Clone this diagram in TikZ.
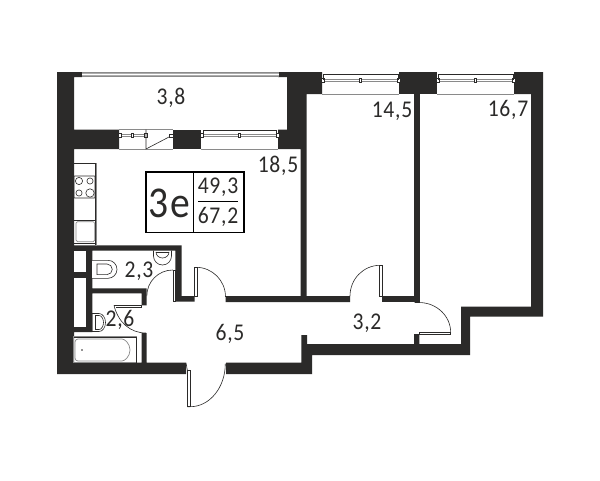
\documentclass[tikz,border=0pt]{standalone}
\usepackage{fontspec}
\setmainfont{Carlito}
\newfontface\areafont[FakeStretch=0.9,LetterSpace=3]{Carlito}
\definecolor{wallc}{HTML}{2B2A29}
\definecolor{grayc}{HTML}{8A8A8A}
\tikzset{
  wall/.style={fill=wallc,draw=none},
  thin line/.style={draw=wallc,line width=0.6pt},
  leaf/.style={draw=wallc,fill=white,line width=0.5pt},
  gline/.style={draw=grayc,line width=0.7pt},
  area/.style={font=\areafont\fontsize{24}{24}\selectfont,text=wallc,inner sep=0pt},
}
\newcommand{\winbay}[3]{%
  \draw[gline] (#1,#3) -- (#2,#3);
  \draw[gline] (#1,#3+1.6) -- (#2,#3+1.6);
  \draw[thin line,fill=white] (#1-1,#3-1) rectangle (#1+2,#3+2.6);
  \draw[thin line,fill=white] (#2-2,#3-1) rectangle (#2+1,#3+2.6);
  \draw[thin line,fill=white] ({(#1+#2)/2-1.2},#3-1) rectangle ({(#1+#2)/2+1.2},#3+2.6);
}
\begin{document}
\begin{tikzpicture}[x=1pt,y=-1pt]
\useasboundingbox (0,0) rectangle (600,480);
\fill[white] (0,0) rectangle (600,480);
% outer walls
\fill[wall] (57,72) -- (82,72) -- (82,77) -- (74,77) -- (74,129.5) -- (119,129.5) -- (119,149) -- (74,149)
  -- (74,245.3) -- (181.7,245.3) -- (181.7,296) -- (194.7,296) -- (194.7,301.7) -- (175.3,301.7) -- (175.3,250.7)
  -- (92.3,250.7) -- (92.3,288.3) -- (146.7,288.3) -- (146.7,305.3) -- (141.7,305.3) -- (141.7,293.3) -- (92.3,293.3)
  -- (92.3,332) -- (74,332) -- (74,362.7) -- (141.7,362.7) -- (141.7,333) -- (146.7,333) -- (146.7,362.7) -- (186,362.7)
  -- (186,374) -- (57,374) -- cycle;
\fill[white] (74,251.3) rectangle (86.3,272);
\fill[white] (74,278.3) rectangle (86.3,326.7);
\fill[wall] (173,129.5) rectangle (201,149);
\fill[wall] (278,72) -- (322,72) -- (322,94) -- (306.7,94) -- (306.7,296) -- (350,296) -- (350,302) -- (225.7,302) -- (225.7,296) -- (300.7,296)
  -- (300.7,149) -- (278,149) -- (278,129.5) -- (287,129.5) -- (287,77) -- (278,77) -- cycle;
\fill[wall] (399,72) rectangle (437,94);
\fill[wall] (414,94) rectangle (419.7,302);
\fill[wall] (382,296) rectangle (419.7,302);
\fill[wall] (514,72) -- (543,72) -- (543,316.7) -- (470,316.7) -- (470,355) -- (312,355) -- (312,374) -- (226,374) -- (226,362.7)
  -- (301.3,362.7) -- (301.3,335) -- (307,335) -- (307,344) -- (414,344) -- (414,334) -- (419.3,334) -- (419.3,344) -- (461,344)
  -- (461,306.7) -- (531,306.7) -- (531,94) -- (514,94) -- cycle;
% windows
\fill[grayc!70] (82,72.3) rectangle (279,76.7);
\draw[gline] (82,72.5) -- (279,72.5);
\draw[draw=white,line width=0.5pt] (82,74.6) -- (279,74.6);
\draw[gline] (82,76.5) -- (279,76.5);
\winbay{322}{399}{79.5}
\winbay{437}{514}{79.5}
\draw[thin line] (323,80) -- (323,74.5) -- (398,74.5) -- (398,80);
\draw[thin line] (438,80) -- (438,74.5) -- (513,74.5) -- (513,80);
\draw[gline] (322,94) -- (399,94);
\draw[gline] (437,94) -- (514,94);
% balcony door and window
\winbay{119}{146}{134.5}
\winbay{201}{278}{134.5}
\draw[thin line] (203,134) -- (203,130) -- (276,130) -- (276,134);
\draw[thin line,fill=white] (169,134) rectangle (173,137);
\draw[gline] (119,129.5) -- (173,129.5);
\draw[gline] (119,149) -- (173,149);
\draw[gline] (201,149) -- (278,149);
\draw[thin line] (146,129.5) -- (146,149) -- (169,137);
% kitchen counter
\draw[gline] (73,163.3) -- (96.7,163.3) -- (96.7,246);
\draw[thin line] (73,163.3) -- (95.5,163.3) -- (95.5,245.3);
\draw[thin line,rounded corners=0.5pt] (74,176) rectangle (95,198);
\draw[thin line] (79,181) circle (3.6);
\draw[thin line] (90,181) circle (3.1);
\draw[thin line] (79,193) circle (3.1);
\draw[thin line] (90,193) circle (4.2);
\draw[thin line] (74,220) -- (95.5,220);
\draw[gline,rounded corners=1.5pt] (76,221.7) rectangle (94.7,241.7);
\draw[thin line] (74,243) -- (95.5,243);
% WC
\draw[thin line,fill=white] (92,260.3) -- (108,260.3) arc[start angle=-90,end angle=90,radius=9] -- (92,278.3);
\draw[thin line] (97,264) -- (107,264) arc[start angle=-90,end angle=90,radius=5.3] -- (97,274.6) -- cycle;
\draw[thin line] (153.5,250.7) -- (153.5,256) arc[start angle=180,end angle=0,radius=9] -- (171.5,250.7);
\draw[thin line] (156,252) arc[start angle=180,end angle=0,x radius=6.5,y radius=6];
\draw[thin line] (156,252) -- (169,252);
% bath sink
\draw[thin line] (92,313.5) -- (99,313.5) arc[start angle=-90,end angle=90,x radius=6.5,y radius=9] -- (92,331.5) -- cycle;
\draw[thin line] (95.5,315.5) -- (99,315.5) arc[start angle=-90,end angle=90,x radius=4.5,y radius=7] -- (95.5,329.5) -- cycle;
% bath
\draw[gline] (73.3,336.7) rectangle (136.7,362.7);
\draw[thin line] (74,337) -- (136.7,337) -- (136.7,362.7);
\draw[gline,rounded corners=3pt] (75,339) -- (119,339) arc[start angle=-90,end angle=90,radius=11] -- (75,361) -- cycle;
\fill[wallc] (82,350) circle (0.9);
% doors
\draw[leaf] (172.8,270) rectangle (175.2,301);
\draw[thin line] (172.8,270) arc[start angle=-90,end angle=-180,radius=26];
\draw[leaf] (194.7,267.3) rectangle (197,296);
\draw[thin line] (196,267.3) arc[start angle=-90,end angle=0,radius=29.5];
\draw[leaf] (379.3,265.3) rectangle (382,296);
\draw[thin line] (380,265.3) arc[start angle=-90,end angle=-180,x radius=30,y radius=30.7];
\draw[leaf] (419.3,332.3) rectangle (450.7,334.7);
\draw[thin line] (414.5,302.5) -- (419,302.5) arc[start angle=-90,end angle=0,x radius=31.7,y radius=30];
\draw[leaf] (114,305.3) -- (141.7,305.3) -- (141.7,307.6) -- (116,307.6);
\draw[thin line] (114,305.3) .. controls (118,322) and (130,333) .. (146,333);
\draw[leaf] (187.3,370) rectangle (190.3,406.7);
\draw[thin line] (187.3,406.7) -- (190.3,406.7) arc[start angle=90,end angle=0,x radius=35,y radius=43];
\draw[thin line] (186,363) -- (187.3,370);
% tag
\draw[draw=black,line width=1.6pt] (145.7,171.7) rectangle (244,232.3);
\draw[draw=black,line width=1.2pt] (193.3,171.7) -- (193.3,232.3);
\draw[draw=black,line width=1.2pt] (198,201.7) -- (238,201.7);
% labels
\node[area] (balc) at (171,98) {3,8};
\node[area] (kitchen) at (278,166) {18,5};
\node[area] (room1) at (392,111) {14,5};
\node[area] (room2) at (508,110) {16,7};
\node[area] (wc) at (139,271) {2,3};
\node[area] (bath) at (120,320) {2,6};
\node[area] (hall) at (230,334) {6,5};
\node[area] (corr) at (367,323) {3,2};
\node[area,font=\areafont\fontsize{44}{44}\selectfont] (type) at (169.5,203) {3e};
\node[area] (liv) at (218,187) {49,3};
\node[area] (tot) at (218,217) {67,2};
\end{tikzpicture}
\end{document}
